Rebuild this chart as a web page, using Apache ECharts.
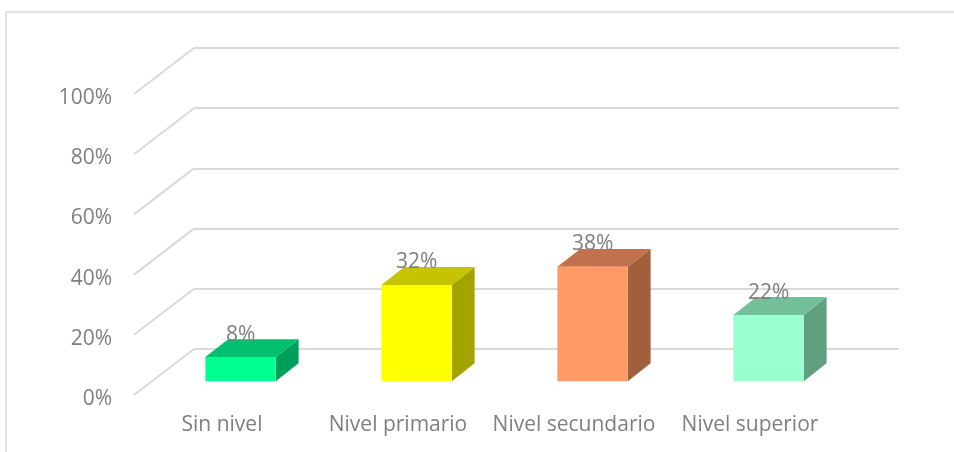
<!DOCTYPE html>
<html>
<head>
<meta charset="utf-8">
<script src="https://cdn.jsdelivr.net/npm/echarts@6/dist/echarts.min.js"></script>
<style>
  html, body { margin: 0; padding: 0; background: #fff; }
  #chart { width: 954px; height: 452px; }
</style>
</head>
<body>
<div id="chart"></div>
<script>
var categories = ['Sin nivel', 'Nivel primario', 'Nivel secundario', 'Nivel superior'];
var values = [8, 32, 38, 22];
var yTicks = [0, 20, 40, 60, 80, 100];

// front, top, side shades for each bar
var faceColors = [
  ['#00ff91', '#00c070', '#00a05c'],
  ['#ffff00', '#c4c400', '#a3a300'],
  ['#ff9966', '#c1714b', '#a0603c'],
  ['#99ffcc', '#73c09a', '#60a080']
];

var DX = 60, DY = 46; // floor depth, front plane -> back wall
var font = '"Open Sans", sans-serif';
var textColor = '#7f7f7f';
var gridColor = '#d9d9d9';

var chart = echarts.init(document.getElementById('chart'));

var option = {
  animation: false,
  grid: [
    { left: 194, right: 55, top: 48, bottom: 103 },   // back wall
    { left: 134, right: 116, top: 94, bottom: 57 }    // front plane
  ],
  xAxis: [
    { gridIndex: 0, type: 'category', data: categories, show: false },
    {
      gridIndex: 1, type: 'category', data: categories,
      axisLine: { show: false }, axisTick: { show: false },
      axisLabel: { interval: 0, color: textColor, fontSize: 21, fontFamily: font, margin: 20 }
    }
  ],
  yAxis: [
    {
      gridIndex: 0, type: 'value', min: 0, max: 100, interval: 20,
      axisLabel: { show: false }, axisLine: { show: false }, axisTick: { show: false },
      splitLine: { lineStyle: { color: gridColor, width: 2 } }
    },
    {
      gridIndex: 1, type: 'value', min: 0, max: 100, interval: 20,
      axisLine: { show: false }, axisTick: { show: false }, splitLine: { show: false },
      axisLabel: {
        formatter: '{v|{value}%}', margin: 22,
        rich: { v: { color: textColor, fontSize: 21, fontFamily: font, padding: [8, 0, 0, 0] } }
      }
    }
  ],
  graphic: [
    { type: 'line', shape: { x1: 6, y1: 12, x2: 954, y2: 12 }, style: { stroke: gridColor, lineWidth: 1.5 } },
    { type: 'line', shape: { x1: 6, y1: 12, x2: 6, y2: 452 }, style: { stroke: gridColor, lineWidth: 1.5 } }
  ],
  series: [
    {
      // side-wall diagonals of the gridlines
      type: 'custom',
      xAxisIndex: 1, yAxisIndex: 1,
      data: yTicks.map(function (v) { return [0, v]; }),
      encode: { x: 0, y: 1 },
      z: 1,
      silent: true,
      clip: false,
      renderItem: function (params, api) {
        var p = api.coord([0, api.value(1)]);
        var x = params.coordSys.x;
        return {
          type: 'line',
          shape: { x1: x, y1: p[1], x2: x + DX, y2: p[1] - DY },
          style: { stroke: gridColor, lineWidth: 2 }
        };
      }
    },
    {
      type: 'custom',
      xAxisIndex: 1, yAxisIndex: 1,
      data: values.map(function (v, i) { return [i, v]; }),
      encode: { x: 0, y: 1 },
      z: 3,
      clip: false,
      renderItem: function (params, api) {
        var i = api.value(0);
        var base = api.coord([i, 0]);
        var top = api.coord([i, api.value(1)]);
        var band = api.size([1, 0])[0];
        var w = band * 0.4;
        var ox = DX * 0.31, oy = DY * 0.3;
        var dx = DX * 0.38, dy = DY * 0.39;
        var x0 = base[0] - w / 2 + ox, x1 = x0 + w;
        var yb = base[1] - oy, yt = top[1] - oy;
        var c = faceColors[i];
        return {
          type: 'group',
          children: [
            { type: 'polygon', shape: { points: [[x1, yb], [x1 + dx, yb - dy], [x1 + dx, yt - dy], [x1, yt]] }, style: { fill: c[2] } },
            { type: 'polygon', shape: { points: [[x0, yt], [x1, yt], [x1 + dx, yt - dy], [x0 + dx, yt - dy]] }, style: { fill: c[1] } },
            { type: 'rect', shape: { x: x0, y: yt, width: w, height: yb - yt }, style: { fill: c[0] } },
            {
              type: 'text',
              style: {
                x: x0 + w / 2, y: yt - dy + 6,
                text: api.value(1) + '%',
                fill: textColor, fontSize: 21, fontFamily: font,
                align: 'center', verticalAlign: 'bottom'
              }
            }
          ]
        };
      }
    }
  ]
};

chart.setOption(option);
</script>
</body>
</html>
